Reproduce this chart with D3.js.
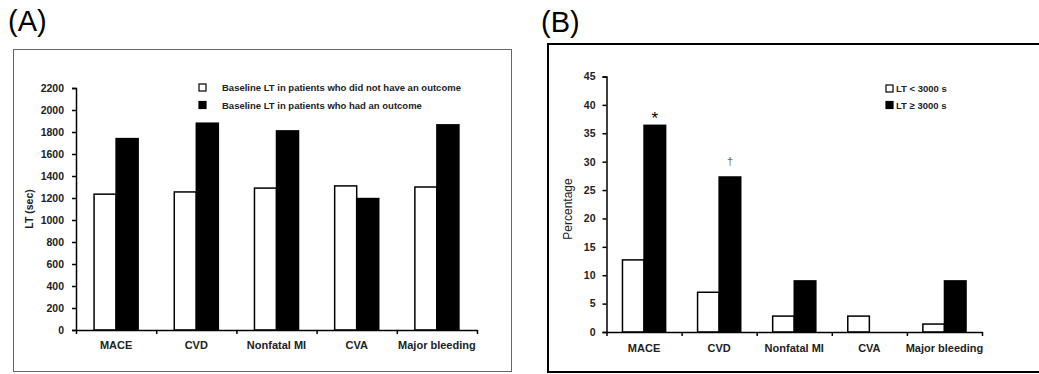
<!DOCTYPE html>
<html>
  <head>
    <meta charset="utf-8">
    <script src="https://d3js.org/d3.v7.min.js"></script>
    <style>
      body { margin: 0; background: #fff; }
      text { font-family: "Liberation Sans", Arial, sans-serif; fill: #222; }
      .tick-lab { font-size: 10.5px; font-weight: bold; }
      .cat { font-size: 11px; font-weight: bold; }
      .leg { font-size: 9.5px; font-weight: bold; }
      .panel { font-size: 29px; fill: #000; }
      .axis path, .axis line { stroke: #000; stroke-width: 1.5; }
    </style>
  </head>
  <body>
    <svg width="1039" height="374"></svg>

    <script>
      // categories shared by both panels
      const categories = ["MACE", "CVD", "Nonfatal MI", "CVA", "Major bleeding"];

      // panel A: baseline LT (sec)
      const ltNoOutcome = [1235, 1255, 1290, 1310, 1300];
      const ltOutcome = [1740, 1880, 1810, 1195, 1865];
      const ticksA = d3.range(0, 2201, 200);

      // panel B: event percentage
      const pctLow = [12.7, 7.0, 2.8, 2.8, 1.4];
      const pctHigh = [36.4, 27.3, 9.0, 0, 9.0];
      const marksB = ["*", "\u2020", "", "", ""];
      const ticksB = d3.range(0, 46, 5);

      const legendA = ["Baseline LT in patients who did not have an outcome", "Baseline LT in patients who had an outcome"];
      const legendB = ["LT < 3000 s", "LT \u2265 3000 s"];

      const svg = d3.select("svg");

      function panel(opt) {
        const g = svg.append("g");

        // frame
        g.append("rect")
          .attr("x", opt.frame[0]).attr("y", opt.frame[1])
          .attr("width", opt.frame[2]).attr("height", opt.frame[3])
          .attr("fill", "none")
          .attr("stroke", opt.frameColor)
          .attr("stroke-width", opt.frameWidth);

        g.append("text").attr("class", "panel")
          .attr("x", opt.title[0]).attr("y", opt.title[1])
          .text(opt.label);

        const x0 = d3.scaleBand().domain(categories).range(opt.xRange);
        const x1 = d3.scaleBand().domain([0, 1]).range([0, x0.bandwidth()])
          .paddingOuter(opt.outer);
        const y = d3.scaleLinear().domain(opt.yDomain).range(opt.yRange);
        const xi = d3.scaleLinear().domain([0, categories.length]).range(opt.xRange);

        // bars
        const series = [opt.low, opt.high];
        series.forEach((vals, s) => {
          g.selectAll(".bar" + s)
            .data(vals)
            .enter().append("rect")
              .attr("x", (d, i) => x0(categories[i]) + x1(s))
              .attr("y", d => y(d))
              .attr("width", x1.bandwidth())
              .attr("height", d => y(0) - y(d))
              .attr("fill", s ? "#000" : "#fff")
              .attr("stroke", d => d > 0 ? "#000" : "none")
              .attr("stroke-width", 1.5);
        });

        // y axis
        g.append("g").attr("class", "axis")
          .attr("transform", `translate(${opt.xRange[0]},0)`)
          .call(d3.axisLeft(y).tickValues(opt.ticks).tickFormat(d3.format("d")).tickSize(4).tickSizeOuter(4))
          .call(a => a.selectAll("text").attr("class", "tick-lab").attr("x", opt.tickDx).attr("fill", null));

        // x axis with ticks at category boundaries
        g.append("g").attr("class", "axis")
          .attr("transform", `translate(0,${y(0)})`)
          .call(d3.axisBottom(xi).tickValues(d3.range(categories.length + 1)).tickSize(4).tickSizeOuter(0).tickFormat(""));

        g.selectAll(".cat")
          .data(categories)
          .enter().append("text")
            .attr("class", "cat")
            .attr("text-anchor", "middle")
            .attr("x", d => x0(d) + x0.bandwidth() / 2)
            .attr("y", y(0) + opt.catDy)
            .text(d => d);

        // y title
        g.append("text")
          .attr("text-anchor", "middle")
          .style("font-size", opt.yTitleSize)
          .style("font-weight", opt.yTitleWeight)
          .attr("transform", `translate(${opt.yTitleX},${opt.yTitleY}) rotate(-90)`)
          .text(opt.yTitle);

        // legend
        opt.legend.forEach((t, i) => {
          const ly = opt.legendPos[1] + i * opt.legendStep;
          g.append("rect")
            .attr("x", opt.legendPos[0]).attr("y", ly - 4)
            .attr("width", 7).attr("height", 7)
            .attr("fill", i ? "#000" : "#fff")
            .attr("stroke", "#000").attr("stroke-width", 1.2);
          g.append("text").attr("class", "leg")
            .attr("x", opt.legendPos[0] + opt.legendGap).attr("y", ly + 3)
            .style("font-size", opt.legendSize)
            .text(t);
        });

        return { x0, x1, y, g };
      }

      panel({
        label: "(A)", title: [8, 31],
        frame: [13.5, 49.5, 498, 322], frameColor: "#666", frameWidth: 1,
        xRange: [76, 477], outer: 0.82, tickDx: -12, catDy: 19,
        yDomain: [0, 2200], yRange: [330, 88], ticks: ticksA,
        low: ltNoOutcome, high: ltOutcome,
        yTitle: "LT (sec)", yTitleX: 33, yTitleY: 209, yTitleSize: "10.5px", yTitleWeight: "bold",
        legend: legendA, legendPos: [199, 88], legendStep: 17.5, legendGap: 23, legendSize: "9.5px"
      });

      const pb = panel({
        label: "(B)", title: [541, 32],
        frame: [548, 44, 500, 328], frameColor: "#000", frameWidth: 2,
        xRange: [606.5, 982], outer: 0.74, tickDx: -11, catDy: 20,
        yDomain: [0, 45], yRange: [332, 76.5], ticks: ticksB,
        low: pctLow, high: pctHigh,
        yTitle: "Percentage", yTitleX: 572, yTitleY: 209, yTitleSize: "12px", yTitleWeight: "normal",
        legend: legendB, legendPos: [886, 89], legendStep: 16.5, legendGap: 10, legendSize: "9.5px"
      });

      // significance marks above the high-LT bars
      pb.g.selectAll(".sig")
        .data(pctHigh)
        .enter().append("text")
          .attr("text-anchor", "middle")
          .attr("x", (d, i) => pb.x0(categories[i]) + pb.x1(1) + pb.x1.bandwidth() / 2)
          .attr("y", (d, i) => pb.y(d) - (i === 0 ? 1 : 12))
          .style("font-size", (d, i) => i === 0 ? "17px" : "11px")
          .style("fill", (d, i) => i === 0 ? "#000" : "#666")
          .text((d, i) => marksB[i]);
    </script>
  </body>
</html>
